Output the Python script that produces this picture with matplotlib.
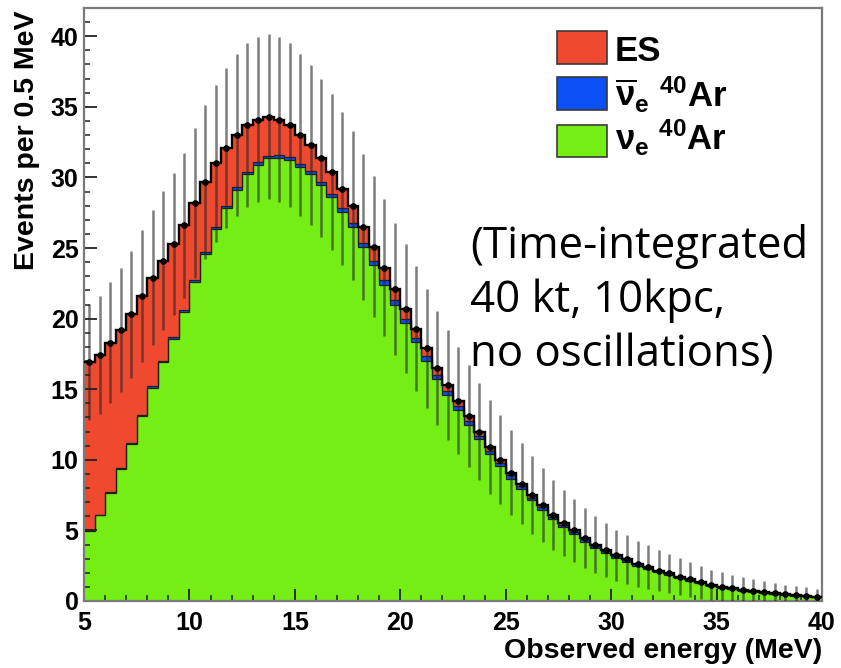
import numpy as np
import matplotlib
matplotlib.use('Agg')
import matplotlib.pyplot as plt
from matplotlib.patches import Rectangle
from matplotlib.ticker import MultipleLocator

# 0.5 MeV bins from 5 to 40 MeV
edges = np.arange(5.0, 40.01, 0.5)

# nu_e 40Ar (CC), events per bin
nue_ar = [4.97, 6.06, 7.65, 9.34, 11.13, 13.12, 15.11, 16.90, 18.59, 20.48,
          22.57, 24.56, 26.35, 27.84, 29.13, 30.22, 30.91, 31.35, 31.39, 31.23,
          30.72, 30.21, 29.45, 28.59, 27.53, 26.47, 25.09, 23.80, 22.40, 21.00,
          19.68, 18.36, 17.03, 15.71, 14.58, 13.54, 12.50, 11.45, 10.39, 9.53,
          8.67, 7.90, 7.13, 6.46, 5.79, 5.21, 4.74, 4.21, 3.78, 3.40,
          3.07, 2.79, 2.50, 2.27, 2.03, 1.84, 1.62, 1.43, 1.24, 1.07,
          0.95, 0.84, 0.73, 0.65, 0.57, 0.50, 0.44, 0.38, 0.33, 0.29]

# anti-nu_e 40Ar
nuebar_ar = [0.03, 0.04, 0.05, 0.06, 0.07, 0.08, 0.09, 0.10, 0.11, 0.12,
             0.13, 0.14, 0.15, 0.16, 0.17, 0.18, 0.19, 0.20, 0.21, 0.22,
             0.23, 0.24, 0.25, 0.26, 0.27, 0.28, 0.29, 0.30, 0.30, 0.30,
             0.30, 0.30, 0.30, 0.29, 0.28, 0.27, 0.26, 0.25, 0.24, 0.23,
             0.22, 0.21, 0.20, 0.19, 0.18, 0.17, 0.16, 0.15, 0.14, 0.13,
             0.12, 0.11, 0.10, 0.09, 0.085, 0.08, 0.07, 0.065, 0.06, 0.055,
             0.05, 0.045, 0.04, 0.035, 0.03, 0.028, 0.025, 0.022, 0.02, 0.018]

# elastic scattering
es = [11.9, 11.3, 10.6, 9.8, 9.1, 8.4, 7.7, 7.1, 6.6, 6.0,
      5.5, 5.0, 4.5, 4.1, 3.7, 3.3, 3.0, 2.75, 2.5, 2.25,
      2.05, 1.85, 1.7, 1.55, 1.4, 1.25, 1.12, 1.0, 0.9, 0.8,
      0.72, 0.64, 0.57, 0.5, 0.44, 0.39, 0.34, 0.3, 0.27, 0.24,
      0.21, 0.19, 0.17, 0.15, 0.13, 0.12, 0.1, 0.09, 0.08, 0.07,
      0.06, 0.055, 0.05, 0.045, 0.04, 0.035, 0.03, 0.028, 0.025, 0.022,
      0.02, 0.018, 0.016, 0.014, 0.012, 0.011, 0.01, 0.009, 0.008, 0.007]

labels = ['ES', r'$\overline{\nu}_{e}$ $^{40}$Ar', r'$\nu_{e}$ $^{40}$Ar']
c_red = '#ef4a2f'
c_blue = '#0a50f5'
c_green = '#74ee14'

plt.rcParams['font.family'] = ['Liberation Sans', 'DejaVu Sans']
plt.rcParams['font.weight'] = 'bold'
plt.rcParams['mathtext.fontset'] = 'custom'
plt.rcParams['mathtext.rm'] = 'Liberation Sans:bold'
plt.rcParams['mathtext.it'] = 'Liberation Sans:bold'
plt.rcParams['mathtext.bf'] = 'Liberation Sans:bold'

fig = plt.figure(figsize=(8.41, 6.68), dpi=100)
ax = fig.add_axes([84/841, 67/668, 738/841, 593/668])

g = np.array(nue_ar)
b = g + np.array(nuebar_ar)
t = b + np.array(es)
centers = 0.5*(edges[:-1] + edges[1:])
err = np.sqrt(t)

ax.stairs(g, edges, baseline=0, fill=True, color=c_green, zorder=1)
ax.stairs(b, edges, baseline=g, fill=True, color=c_blue, zorder=1)
ax.stairs(t, edges, baseline=b, fill=True, color=c_red, zorder=1)
# dark outlines like ROOT
ax.stairs(g, edges, baseline=None, color='#202020', lw=0.9, zorder=2)
ax.stairs(b, edges, baseline=None, color='#202020', lw=0.9, zorder=2)

# error bars (sqrt N) and total
ax.vlines(centers, t - err, t + err, color='#262626', alpha=0.6, lw=1.8, zorder=3)
ax.stairs(t, edges, baseline=None, color='black', lw=1.7, zorder=4)
ax.plot(centers, t, 'o', color='black', ms=3.8, zorder=5)

ax.set_xlim(5, 40)
ax.set_ylim(0, 42)
ax.set_xticks(np.arange(5, 41, 5))
ax.set_yticks(np.arange(0, 41, 5))
ax.xaxis.set_minor_locator(MultipleLocator(1))
ax.yaxis.set_minor_locator(MultipleLocator(1))
ax.tick_params(which='both', direction='in', top=False, right=False, color='#222222')
ax.tick_params(which='major', length=9, width=1.3, labelsize=18)
ax.tick_params(which='minor', length=4.5, width=1.1)
ax.tick_params(axis='x', pad=7)
ax.tick_params(axis='y', pad=4)
for sp in ax.spines.values():
    sp.set_color('#7a7a7a')
    sp.set_linewidth(1.6)

fig.text(27/841, 1 - 10/668, 'Events per 0.5 MeV', rotation=90, ha='center', va='top',
         fontsize=20.5, fontweight='bold')
fig.text(822/841, 1 - 651/668, 'Observed energy (MeV)', ha='right', va='center',
         fontsize=20.5, fontweight='bold')

# legend
rows = [(31, 64, 61), (77, 110, 107), (125, 157, 150)]
cols = [c_red, c_blue, c_green]
for (ytop, ybot, ybase), col, lab in zip(rows, cols, labels):
    fig.patches.append(Rectangle((557/841, 1 - ybot/668), 50/841, (ybot - ytop)/668,
                                 transform=fig.transFigure, facecolor=col,
                                 edgecolor='#3a3a3a', lw=1.2))
    fig.text(615/841, 1 - ybase/668, lab, ha='left', va='baseline', fontsize=25,
             fontweight='bold')

# annotation
note = ['(Time-integrated', '40 kt, 10kpc,', 'no oscillations)']
for line, yb in zip(note, [258, 312, 366]):
    fig.text(470/841, 1 - yb/668, line, ha='left', va='baseline', fontsize=31.5,
             family='Open Sans', fontweight='normal', color='black')

fig.savefig('out.png', dpi=100)
